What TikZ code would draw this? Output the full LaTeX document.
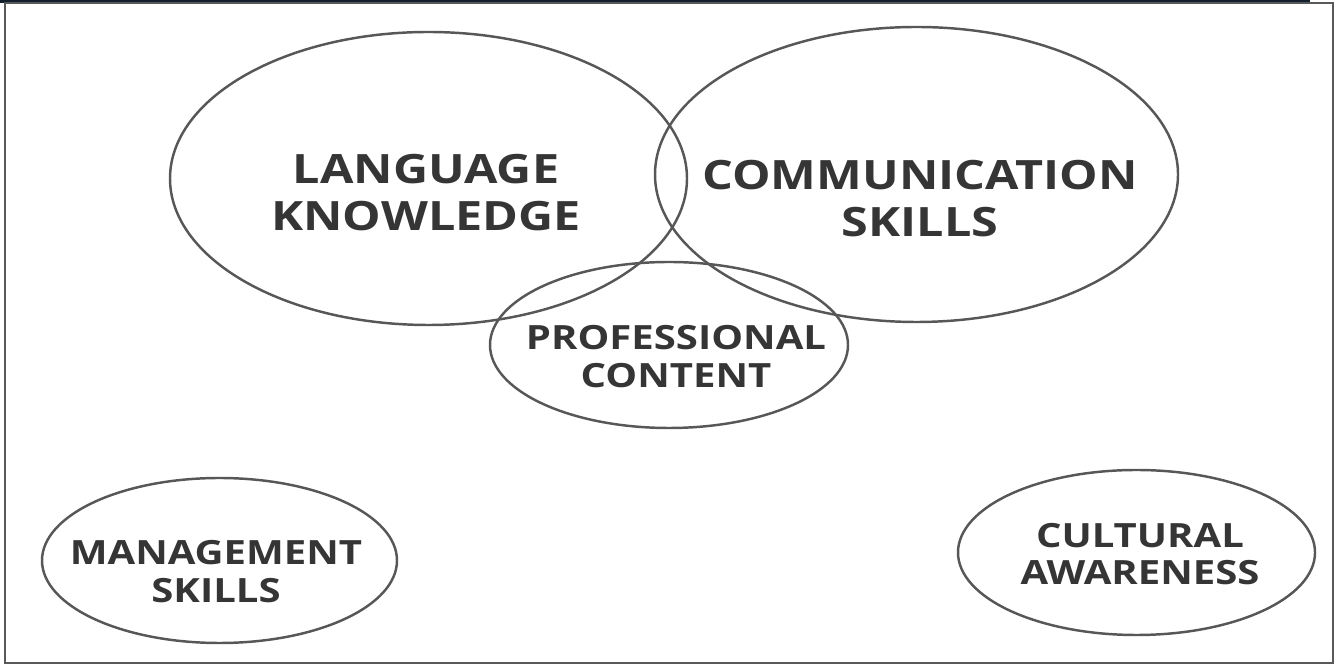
\documentclass[tikz,border=0pt]{standalone}
\usepackage{fontspec}
\newfontfamily\vennfont[FakeStretch=1.2]{Open Sans}
\usetikzlibrary{shapes.geometric}

\definecolor{inkgray}{HTML}{575757}
\definecolor{textgray}{HTML}{353535}
\definecolor{scanedge}{HTML}{15202E}

\begin{document}
\begin{tikzpicture}[
    % ellipse styles
    area/.style      = {ellipse, draw=inkgray, line width=1.4pt,
                        inner sep=0pt, outer sep=0pt},
    bigarea/.style   = {area, minimum width=10.4cm, minimum height=5.88cm},
    smallarea/.style = {area, minimum width=7.12cm, minimum height=3.3cm},
    % label styles
    bigtext/.style   = {font=\vennfont\bfseries\fontsize{23}{27}\selectfont,
                        align=center, text=textgray, inner sep=0pt},
    smalltext/.style = {font=\vennfont\bfseries\fontsize{19}{21.5}\selectfont,
                        align=center, text=textgray, inner sep=0pt}
  ]
\useasboundingbox (0,0) rectangle (26.74,13.4);

% ============================================================
% Frame of the figure
% ============================================================
\fill[scanedge] (0,13.34) rectangle (26.2,13.4);
\draw[gray!70!black, line width=1pt] (0.1,0.14) rectangle (26.66,13.34);

% ============================================================
% Overlapping areas (top)
% ============================================================
\node[bigarea, minimum width=10.34cm, minimum height=5.86cm] (lang) at (8.57,9.83) {};
\node[bigarea, minimum width=10.46cm, minimum height=5.9cm] (comm) at (18.33,9.91) {};
\node[smallarea, minimum width=7.16cm, minimum height=3.32cm] (prof) at (13.38,6.5) {};

\node[bigtext] (langtext) at (8.52,9.55) {LANGUAGE\\KNOWLEDGE};
\node[bigtext] (commtext) at (18.4,9.43) {COMMUNICATION\\SKILLS};
\node[smalltext] (proftext) at (13.52,6.27) {PROFESSIONAL\\CONTENT};

% ============================================================
% Separate areas (bottom)
% ============================================================
\node[smallarea, minimum width=7.1cm] (mgmt) at (4.39,2.19) {};
\node[smallarea, minimum width=7.14cm] (cult) at (22.73,2.35) {};

\node[smalltext] (mgmttext) at (4.32,1.97) {MANAGEMENT\\SKILLS};
\node[smalltext] (culttext) at (22.8,2.32) {CULTURAL\\AWARENESS};

\end{tikzpicture}
\end{document}
